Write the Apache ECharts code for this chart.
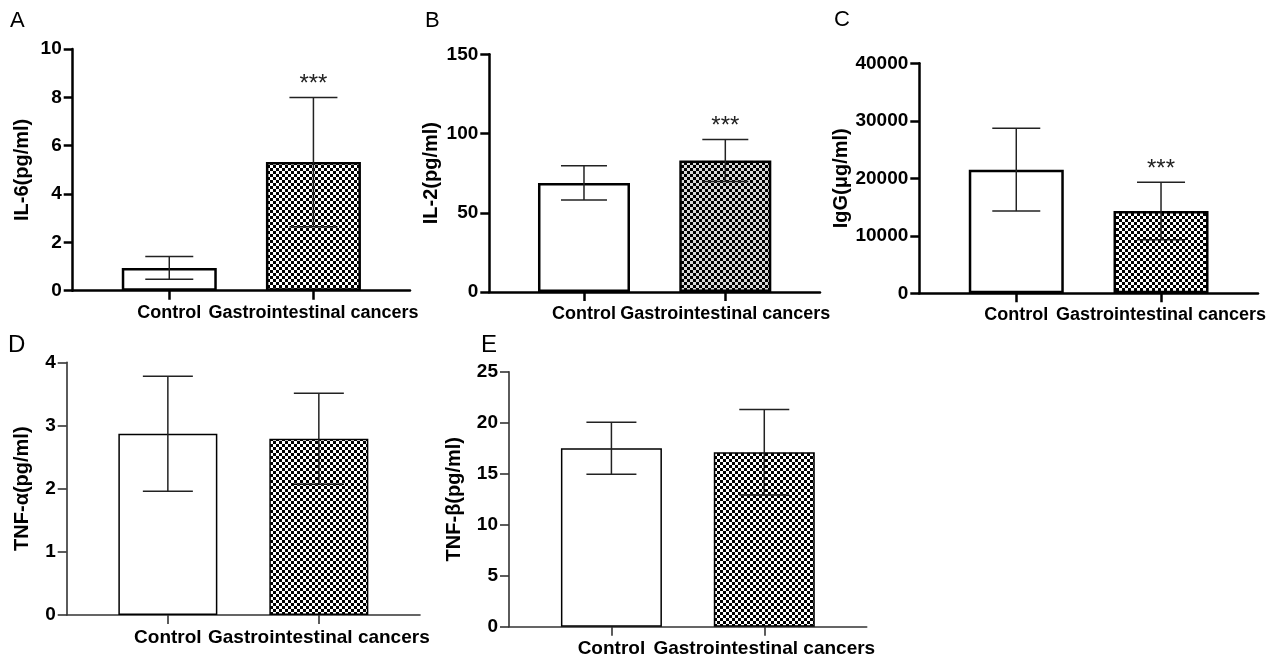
<!DOCTYPE html>
<html><head><meta charset="utf-8">
<script src="https://cdn.jsdelivr.net/npm/echarts@6/dist/echarts.min.js"></script>
<style>html,body{margin:0;padding:0;background:#fff}#c{width:1274px;height:661px}</style>
</head><body><div id="c"></div>
<script>
// ---- data ----
const categories = ['Control', 'Gastrointestinal cancers'];
const il6Mean = [0.94, 5.32];   const il6Sd = [0.47, 2.67];   const il6Sig = ['', '***'];
const il2Mean = [68.8, 83.0];   const il2Sd = [10.8, 13.2];   const il2Sig = ['', '***'];
const iggMean = [21500, 14300]; const iggSd = [7200, 5000];   const iggSig = ['', '***'];
const tnfaMean = [2.87, 2.79];  const tnfaSd = [0.91, 0.72];  const tnfaSig = ['', ''];
const tnfbMean = [17.5, 17.1];  const tnfbSd = [2.55, 4.2];   const tnfbSig = ['', ''];
const yTitles = ['IL-6(pg/ml)', 'IL-2(pg/ml)', 'IgG(μg/ml)', 'TNF-α(pg/ml)', 'TNF-β(pg/ml)'];
const yMax = [10, 150, 40000, 4, 25];
const yInterval = [2, 50, 10000, 1, 5];
const panelLetters = ['A', 'B', 'C', 'D', 'E'];

const means = [il6Mean, il2Mean, iggMean, tnfaMean, tnfbMean];
const sds = [il6Sd, il2Sd, iggSd, tnfaSd, tnfbSd];
const sigs = [il6Sig, il2Sig, iggSig, tnfaSig, tnfbSig];

// ---- layout / style ----
const FONT = '"Liberation Sans", Arial, sans-serif';
const layout = [
  {left: 72.7, top: 49, right: 410, bottom: 290.7, bw: 95, cap: 48, axisW: 2.5, border: 2.5, axisC: '#000', nameGap: 40, xFont: 18, letter: [10, 10], lf: 22, light: '#fff'},
  {left: 489.3, top: 54.3, right: 820, bottom: 292, bw: 92, cap: 46, axisW: 2.5, border: 2.5, axisC: '#000', nameGap: 48, xFont: 18, letter: [425, 10], lf: 22, light: '#d9d9d9'},
  {left: 919.3, top: 63.3, right: 1258, bottom: 293.3, bw: 95, cap: 48, axisW: 2.5, border: 2.5, axisC: '#000', nameGap: 65, xFont: 18, letter: [834, 9], lf: 22, light: '#fff'},
  {left: 66.7, top: 362.3, right: 420, bottom: 615, bw: 99, cap: 50, axisW: 1.6, border: 1.5, axisC: '#333', nameGap: 34, xFont: 19, letter: [8, 333], lf: 24, light: '#fff'},
  {left: 509, top: 371.7, right: 866.7, bottom: 626.7, bw: 101, cap: 50, axisW: 1.6, border: 1.5, axisC: '#333', nameGap: 45, xFont: 19, letter: [481, 333], lf: 24, light: '#fff'}
];

function makePattern(cell, light) {
  const c = document.createElement('canvas');
  c.width = c.height = cell * 2;
  const g = c.getContext('2d');
  g.fillStyle = light; g.fillRect(0, 0, cell * 2, cell * 2);
  g.fillStyle = '#000';
  g.fillRect(0, 0, cell, cell); g.fillRect(cell, cell, cell, cell);
  return {image: c, repeat: 'repeat'};
}

const grids = [], xAxes = [], yAxes = [], series = [], graphics = [];
layout.forEach((L, i) => {
  grids.push({left: L.left, top: L.top, width: L.right - L.left, height: L.bottom - L.top, containLabel: false, outerBoundsMode: 'none'});
  const lineStyle = {color: L.axisC, width: L.axisW};
  xAxes.push({
    gridIndex: i, type: 'value', min: -0.67, max: 1.67,
    splitLine: {show: false},
    axisLine: {show: true, onZero: false, lineStyle},
    axisTick: {show: true, customValues: [0, 1], length: 9, lineStyle},
    axisLabel: {customValues: [0, 1], formatter: v => categories[Math.round(v)], margin: 13,
      fontWeight: 'bold', fontSize: L.xFont, color: '#000', fontFamily: FONT}
  });
  yAxes.push({
    gridIndex: i, type: 'value', min: 0, max: yMax[i], interval: yInterval[i],
    name: yTitles[i], nameLocation: 'middle', nameGap: L.nameGap, nameRotate: 90,
    nameTextStyle: {fontWeight: 'bold', fontSize: 20, color: '#000', fontFamily: FONT},
    splitLine: {show: false},
    axisLine: {show: true, onZero: false, lineStyle},
    axisTick: {show: true, length: 9, lineStyle},
    axisLabel: {margin: 11, fontWeight: 'bold', fontSize: 19, color: '#000', fontFamily: FONT,
      formatter: v => String(v)}
  });
  const pat = makePattern(3, L.light);
  series.push({
    type: 'bar', xAxisIndex: i, yAxisIndex: i, barWidth: L.bw, z: 2,
    data: means[i].map((m, k) => ({
      value: [k, m],
      itemStyle: {color: k === 0 ? '#fff' : pat, borderColor: '#000', borderWidth: L.border}
    }))
  });
  const sg = sigs[i];
  series.push({
    type: 'custom', xAxisIndex: i, yAxisIndex: i, z: 5,
    data: means[i].map((m, k) => [k, m, sds[i][k]]),
    renderItem: (params, api) => {
      const x = api.value(0), m = api.value(1), s = api.value(2);
      const t = api.coord([x, m + s]);
      const b = api.coord([x, m - s]);
      const h = L.cap / 2;
      const st = {stroke: '#222', lineWidth: 1.5};
      const children = [
        {type: 'line', shape: {x1: t[0], y1: t[1], x2: b[0], y2: b[1]}, style: st},
        {type: 'line', shape: {x1: t[0] - h, y1: t[1], x2: t[0] + h, y2: t[1]}, style: st},
        {type: 'line', shape: {x1: b[0] - h, y1: b[1], x2: b[0] + h, y2: b[1]}, style: st}
      ];
      const sig = sg[params.dataIndex];
      if (sig) children.push({type: 'text', x: t[0], y: t[1] - 1,
        style: {text: sig, fill: '#222', font: '24px ' + FONT, align: 'center', verticalAlign: 'bottom'}});
      return {type: 'group', children};
    }
  });
  graphics.push({type: 'text', left: L.letter[0], top: L.letter[1],
    style: {text: panelLetters[i], fill: '#000', font: L.lf + 'px ' + FONT}});
});

const chart = echarts.init(document.getElementById('c'), null, {renderer: 'canvas'});
chart.setOption({
  animation: false,
  backgroundColor: '#fff',
  grid: grids, xAxis: xAxes, yAxis: yAxes, series, graphic: graphics
});
</script></body></html>
